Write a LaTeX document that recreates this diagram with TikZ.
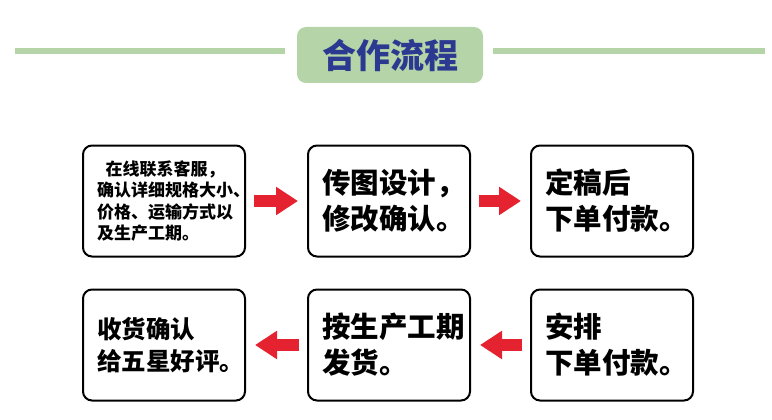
\documentclass[tikz,border=0pt]{standalone}
\usepackage{fontspec}
\newfontfamily\cjk{Noto Sans CJK SC}
\usetikzlibrary{arrows.meta}
\definecolor{leafgreen}{HTML}{B5D4A7}
\definecolor{titleblue}{HTML}{2B3990}
\definecolor{arrowred}{HTML}{E52330}
\tikzset{
  stepbox/.style={draw,line width=2pt,rounded corners=9pt,
    minimum width=162pt,minimum height=111pt,inner sep=0pt,
    text width=134pt,align=left},
  bigtext/.style={font=\cjk\bfseries\fontsize{28.5}{36}\selectfont},
  midtext/.style={font=\cjk\bfseries\fontsize{24.5}{32}\selectfont},
  smalltext/.style={font=\cjk\bfseries\fontsize{17}{21.5}\selectfont},
  redarrow/.style={arrowred,line width=12pt,
    -{Triangle[length=22pt,width=27pt]},shorten <=8pt,shorten >=9pt}
}
\begin{document}
\begin{tikzpicture}[x=1pt,y=-1pt]
    \useasboundingbox (0,0) rectangle (772,420);
    % title bar
    \draw[leafgreen,line width=6pt] (15,51) -- (285,51);
    \draw[leafgreen,line width=6pt] (493,51) -- (765,51);
    \node[fill=leafgreen,rounded corners=9pt,minimum width=186pt,
      minimum height=56pt,text=titleblue,
      font=\cjk\bfseries\fontsize{34}{36}\selectfont] (title) at (390,55) {合作流程};
    % first row
    \node[stepbox,smalltext] (contact) at (164,201)
      {\hspace*{0.5em}在线联系客服，\\确认详细规格大小、\\价格、运输方式以\\及生产工期。};
    \node[stepbox,bigtext] (design) at (389,201) {传图设计，\\修改确认。};
    \node[stepbox,bigtext] (final) at (612,201) {定稿后\\下单付款。};
    % second row
    \node[stepbox,bigtext] (arrange) at (612,345) {安排\\下单付款。};
    \node[stepbox,bigtext] (ship) at (389,345) {按生产工期\\发货。};
    \node[stepbox,midtext] (review) at (164,345) {收货确认\\给五星好评。};
    % arrows
    \draw[redarrow] (contact) -- (design);
    \draw[redarrow] (design) -- (final);
    \draw[redarrow] (arrange) -- (ship);
    \draw[redarrow] (ship) -- (review);
\end{tikzpicture}
\end{document}
